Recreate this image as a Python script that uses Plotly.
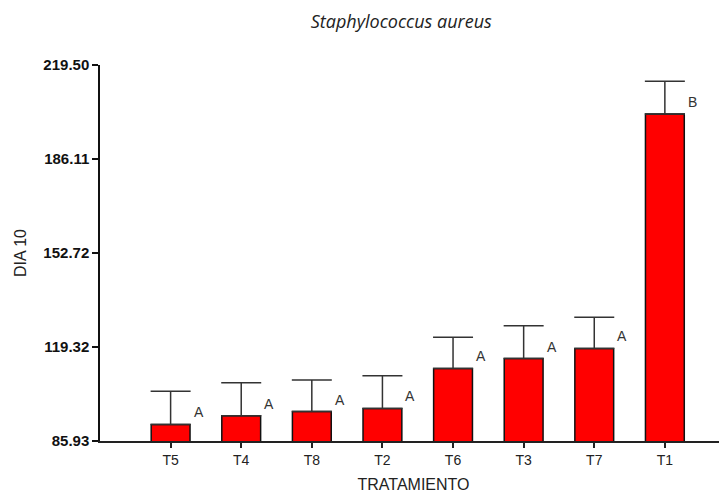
import plotly.graph_objects as go

categories = ["T5", "T4", "T8", "T2", "T6", "T3", "T7", "T1"]
means = [91.8, 94.9, 96.4, 97.5, 111.7, 115.2, 118.8, 202.1]
err_upper = [11.8, 11.7, 11.2, 11.6, 11.1, 11.7, 11.1, 11.6]
letters = ["A", "A", "A", "A", "A", "A", "A", "B"]
y_ticks = [85.93, 119.32, 152.72, 186.11, 219.50]
y_tick_labels = ["85.93", "119.32", "152.72", "186.11", "219.50"]

fig = go.Figure()
fig.add_trace(go.Bar(
    x=categories, y=means, width=0.55,
    marker=dict(color="#FF0000", line=dict(color="#111111", width=1.5)),
    error_y=dict(type="data", symmetric=False, array=err_upper,
                 arrayminus=[0] * len(means), color="#333333",
                 thickness=1.5, width=20),
    showlegend=False,
))

for c, m, l in zip(categories, means, letters):
    fig.add_annotation(x=c, y=m, text=l, showarrow=False,
                       xshift=28, yshift=12,
                       font=dict(family="Liberation Sans, Arial", size=14, color="#333333"))

fig.update_layout(
    width=719, height=485,
    margin=dict(l=92, r=0, t=57, b=52),
    plot_bgcolor="white", paper_bgcolor="white",
    title=dict(text="<i>Staphylococcus aureus</i>", x=0.547, xanchor="center",
               y=0.971, yanchor="middle",
               font=dict(family="Open Sans, Liberation Sans", size=18, color="#222222")),
    font=dict(family="Liberation Sans, Arial", color="#222222"),
)

fig.update_yaxes(
    range=[85.93, 219.50], tickvals=y_ticks, ticktext=y_tick_labels,
    showgrid=False, zeroline=False, showline=True, linecolor="#111111", linewidth=1.5,
    ticks="outside", ticklen=6, tickcolor="#111111", tickwidth=1.5,
    tickfont=dict(family="Liberation Sans, Arial", size=15, color="#111111", weight="bold"),
    title=dict(text="DIA 10", font=dict(size=16, color="#222222"), standoff=13),
)
fig.update_xaxes(
    range=[-1.0, 7.88],
    showgrid=False, zeroline=False, showline=True, linecolor="#222222", linewidth=1.5,
    ticks="outside", ticklen=5, tickcolor="#222222", tickwidth=1.5,
    tickfont=dict(family="Liberation Sans, Arial", size=14, color="#222222"),
    title=dict(text="TRATAMIENTO", font=dict(size=16, color="#222222"), standoff=12),
)

fig.write_html("out.html")
